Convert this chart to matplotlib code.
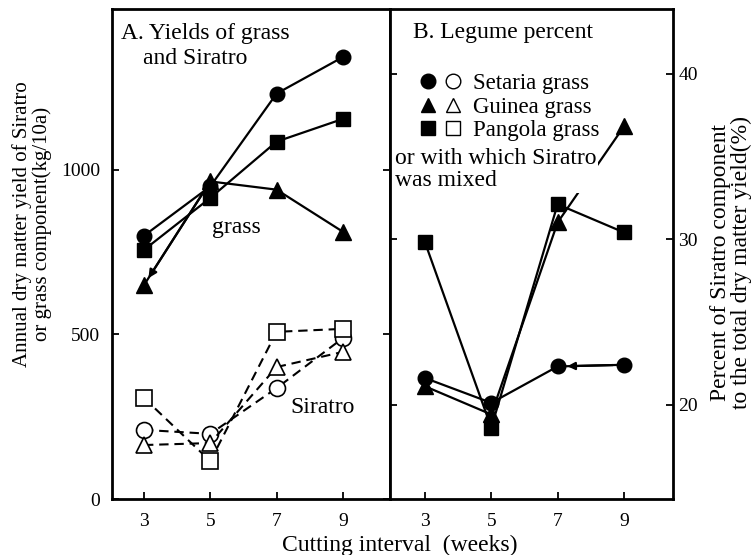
import matplotlib
matplotlib.use("Agg")
import matplotlib.pyplot as plt
from matplotlib.lines import Line2D
from matplotlib.legend_handler import HandlerTuple

plt.rcParams['font.family'] = ['Liberation Serif', 'DejaVu Serif']

weeks = [3, 5, 7, 9]

# A. annual dry matter yield (kg/10a)
grass_setaria = [800, 950, 1232, 1343]
grass_guinea = [650, 965, 940, 812]
grass_pangola = [757, 915, 1086, 1155]
sira_setaria = [210, 198, 337, 489]
sira_guinea = [164, 170, 401, 447]
sira_pangola = [307, 115, 508, 517]

# B. legume percent (%)
pct_setaria = [21.6, 20.1, 22.3, 22.4]
pct_guinea = [21.1, 19.4, 31.0, 36.8]
pct_pangola = [29.8, 18.6, 32.1, 30.4]

W, H = 753, 555
fig = plt.figure(figsize=(W / 100, H / 100), dpi=100)
fig.patch.set_facecolor('white')

x0, x1, x2 = 112, 390, 673
ytop, ybot = 9, 499
axA = fig.add_axes([x0 / W, 1 - ybot / H, (x1 - x0) / W, (ybot - ytop) / H])
axB = fig.add_axes([x1 / W, 1 - ybot / H, (x2 - x1) / W, (ybot - ytop) / H])

ms = 10.5
lw = 1.6
for ax in (axA, axB):
    for s in ax.spines.values():
        s.set_linewidth(2)
    ax.tick_params(direction='in', length=5, width=1.3, labelsize=14,
                   top=False, right=True, left=True)
    ax.tick_params(axis='x', pad=10)
    ax.set_xticks(weeks)

# --- panel A ---
axA.plot(weeks, grass_setaria, 'k-', marker='o', ms=ms, lw=lw)
axA.plot(weeks, grass_guinea, 'k-', marker='^', ms=ms + 1, lw=lw)
axA.plot(weeks, grass_pangola, 'k-', marker='s', ms=ms, lw=lw)
axA.annotate('', xy=(weeks[0], grass_guinea[0]), xytext=(weeks[1], grass_guinea[1]),
             arrowprops=dict(arrowstyle='-|>', color='k', lw=lw, mutation_scale=12,
                             shrinkA=8, shrinkB=6))
dash = dict(color='k', lw=1.5, ls=(0, (4.5, 2.8)), mfc='white', mec='k', mew=1.2)
axA.plot(weeks, sira_setaria, marker='o', ms=ms + 1, **dash)
axA.plot(weeks, sira_guinea, marker='^', ms=ms + 1, **dash)
axA.plot(weeks, sira_pangola, marker='s', ms=ms + 1, **dash)
axA.set_xlim(2.035, 10.42)
axA.set_ylim(0, 1489)
axA.set_yticks([0, 500, 1000])
axA.tick_params(axis='y', labelright=False, pad=8.5)
axA.text(0.032, 0.951, 'A. Yields of grass', transform=axA.transAxes,
         fontsize=17, va='center', ha='left')
axA.text(0.112, 0.9, 'and Siratro', transform=axA.transAxes,
         fontsize=17, va='center', ha='left')
axA.text(0.36, 0.555, 'grass', transform=axA.transAxes,
         fontsize=17, va='center', ha='left')
axA.text(0.64, 0.186, 'Siratro', transform=axA.transAxes,
         fontsize=17, va='center', ha='left')

# --- panel B ---
axB.plot(weeks, pct_setaria, 'k-', marker='o', ms=ms, lw=lw, zorder=3)
axB.plot(weeks, pct_guinea, 'k-', marker='^', ms=ms + 1, lw=lw, zorder=2)
axB.plot(weeks, pct_pangola, 'k-', marker='s', ms=ms, lw=lw, zorder=3)
axB.annotate('', xy=(weeks[2], pct_setaria[2]), xytext=(weeks[3], pct_setaria[3]),
             arrowprops=dict(arrowstyle='-|>', color='k', lw=lw, mutation_scale=11,
                             shrinkA=8, shrinkB=7), zorder=3)
axB.set_xlim(1.945, 10.48)
axB.set_ylim(14.29, 43.9)
axB.set_yticks([20, 30, 40])
axB.tick_params(axis='y', labelleft=False, labelright=True, pad=4)
axB.text(0.081, 0.953, 'B. Legume percent', transform=axB.transAxes,
         fontsize=17, va='center', ha='left')

handles = [
    (Line2D([], [], marker='o', color='k', ls='none', ms=ms),
     Line2D([], [], marker='o', mfc='white', mec='k', ls='none', ms=ms)),
    (Line2D([], [], marker='^', color='k', ls='none', ms=ms),
     Line2D([], [], marker='^', mfc='white', mec='k', ls='none', ms=ms)),
    (Line2D([], [], marker='s', color='k', ls='none', ms=ms),
     Line2D([], [], marker='s', mfc='white', mec='k', ls='none', ms=ms)),
]
labels = ['Setaria grass', 'Guinea grass', 'Pangola grass']
axB.legend(handles, labels, handler_map={tuple: HandlerTuple(ndivide=None, pad=0.3)},
           loc='upper left', bbox_to_anchor=(0.102, 0.87), frameon=False,
           fontsize=16.5, handlelength=1.9, handletextpad=0.45,
           labelspacing=0.12, borderpad=0, borderaxespad=0)
axB.text(0.018, 0.672, 'or with which Siratro\nwas mixed', transform=axB.transAxes,
         fontsize=17, va='center', ha='left', linespacing=1.05,
         bbox=dict(facecolor='white', edgecolor='none', pad=1), zorder=4)

# axis titles
fig.text(32 / W, 1 - 224 / H, 'Annual dry matter yield of Siratro\nor grass component(kg/10a)',
         fontsize=15, rotation=90, ha='center', va='center', linespacing=1.05)
fig.text(731 / W, 1 - 262 / H, 'Percent of Siratro component\nto the total dry matter yield(%)',
         fontsize=17, rotation=90, ha='center', va='center', linespacing=0.98)
fig.text(400 / W, 1 - 551 / H, 'Cutting interval  (weeks)', fontsize=17,
         ha='center', va='baseline')

fig.savefig('out.png', dpi=100)
